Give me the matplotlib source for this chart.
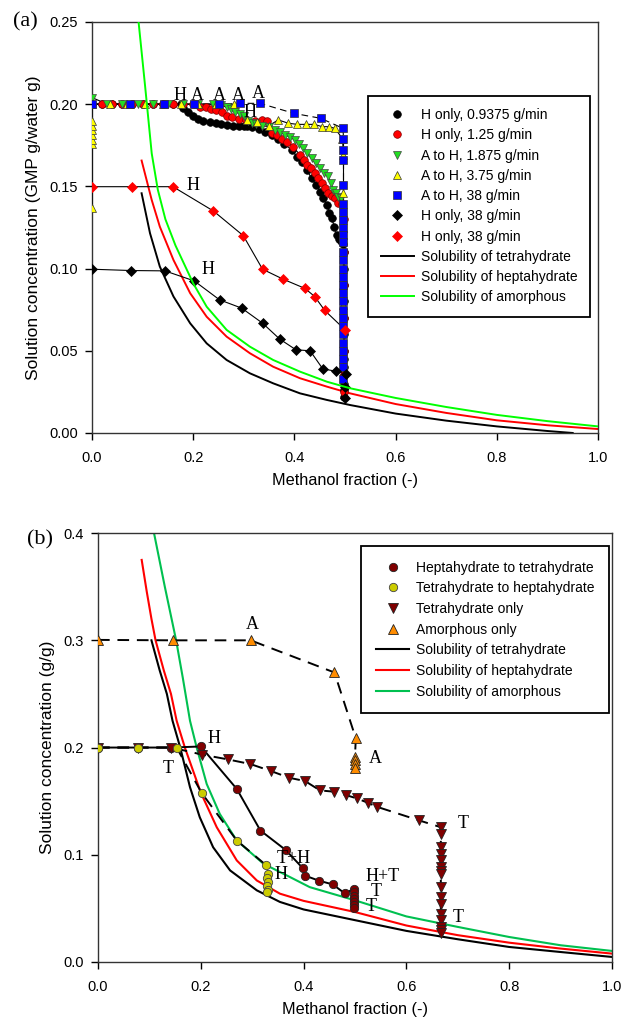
import matplotlib
matplotlib.use('Agg')
import matplotlib.pyplot as plt
import numpy as np

plt.rcParams['font.family'] = ['Liberation Sans', 'DejaVu Sans']

# ---------------- panel (a) data ----------------
# H only, 0.9375 g/min
h09_x = [0, 0.02, 0.04, 0.06, 0.08, 0.10, 0.12, 0.14, 0.16, 0.175,
         0.18, 0.19, 0.20, 0.21, 0.22, 0.233, 0.245, 0.255, 0.266, 0.278,
         0.29, 0.30, 0.306, 0.316, 0.33, 0.342, 0.355, 0.368, 0.38, 0.395,
         0.405, 0.414, 0.424, 0.434, 0.442, 0.451, 0.457, 0.464, 0.469, 0.474,
         0.479, 0.484, 0.488, 0.493, 0.497,
         0.498, 0.498, 0.498, 0.498, 0.498, 0.498, 0.498, 0.498, 0.498, 0.498,
         0.498, 0.498, 0.498]
h09_y = [0.2, 0.2, 0.2, 0.2, 0.2, 0.2, 0.2, 0.2, 0.2, 0.2,
         0.1975, 0.195, 0.193, 0.191, 0.19, 0.189, 0.1885, 0.188, 0.1875, 0.187,
         0.187, 0.1868, 0.1865, 0.186, 0.185, 0.1833, 0.181, 0.179, 0.176, 0.172,
         0.168, 0.165, 0.16, 0.155, 0.151, 0.1468, 0.143, 0.1387, 0.134, 0.1306,
         0.125, 0.1204, 0.118, 0.117, 0.115,
         0.11, 0.10, 0.09, 0.08, 0.07, 0.06, 0.05, 0.045, 0.04, 0.035,
         0.03, 0.026, 0.022]

# H only, 1.25 g/min
h125_x = [0, 0.02, 0.04, 0.06, 0.08, 0.10, 0.12, 0.14, 0.16, 0.18, 0.20,
          0.213, 0.225, 0.235, 0.246, 0.256, 0.266, 0.276, 0.29, 0.305, 0.322,
          0.335, 0.345, 0.355, 0.365, 0.375, 0.386, 0.398, 0.411, 0.418, 0.424,
          0.432, 0.441, 0.447, 0.454, 0.46, 0.467, 0.474, 0.48, 0.487, 0.495,
          0.498, 0.498, 0.498, 0.498, 0.498, 0.498, 0.498]
h125_y = [0.2, 0.2, 0.2, 0.2, 0.2, 0.2, 0.2, 0.2, 0.2, 0.2, 0.2,
          0.1985, 0.198, 0.197, 0.1965, 0.195, 0.193, 0.192, 0.191, 0.1905, 0.19,
          0.1905, 0.19, 0.1823, 0.181, 0.179, 0.177, 0.174, 0.169, 0.166, 0.163,
          0.161, 0.158, 0.155, 0.1519, 0.149, 0.1458, 0.144, 0.1428, 0.14, 0.139,
          0.13, 0.11, 0.09, 0.07, 0.05, 0.035, 0.025]

# A to H, 1.875 g/min
a18_x = [0, 0.03, 0.06, 0.09, 0.12, 0.15, 0.18, 0.21, 0.24,
         0.255, 0.266, 0.275, 0.283, 0.292, 0.30, 0.308, 0.316, 0.325, 0.335,
         0.349, 0.362, 0.372, 0.381, 0.391, 0.401, 0.409, 0.417, 0.425, 0.434,
         0.442, 0.451, 0.459, 0.467, 0.472, 0.477, 0.482, 0.487, 0.493]
a18_y = [0.204, 0.2, 0.2, 0.2, 0.2, 0.2, 0.2, 0.2, 0.2,
         0.1995, 0.198, 0.197, 0.1955, 0.194, 0.1925, 0.19, 0.1884, 0.188, 0.187,
         0.1863, 0.1843, 0.183, 0.1813, 0.18, 0.1782, 0.176, 0.1732, 0.17, 0.167,
         0.164, 0.161, 0.158, 0.156, 0.152, 0.1478, 0.146, 0.1437, 0.143]

# A to H, 3.75 g/min
a37_x = [0, 0, 0, 0, 0, 0, 0, 0,
         0.035, 0.07, 0.105, 0.14, 0.175, 0.21, 0.245, 0.28,
         0.306, 0.327, 0.35, 0.368, 0.388, 0.406, 0.422, 0.439, 0.455, 0.468,
         0.48, 0.495, 0.497, 0.497, 0.497, 0.497]
a37_y = [0.137, 0.176, 0.178, 0.181, 0.184, 0.187, 0.19, 0.2,
         0.2, 0.2, 0.2, 0.2, 0.2, 0.2, 0.2, 0.2,
         0.1904, 0.189, 0.187, 0.1904, 0.1884, 0.1877, 0.1877, 0.1877, 0.1863, 0.1863,
         0.1853, 0.179, 0.169, 0.1458, 0.09, 0.078]

# A to H, 38 g/min
a38_x = [0, 0.075, 0.143, 0.202, 0.25, 0.292, 0.332, 0.399, 0.452, 0.496,
         0.497, 0.497, 0.497, 0.497, 0.497, 0.497, 0.497, 0.497, 0.497, 0.497,
         0.497, 0.497, 0.497, 0.497, 0.497, 0.497, 0.497, 0.497, 0.497, 0.497,
         0.497, 0.497, 0.497, 0.497, 0.497, 0.497]
a38_y = [0.2, 0.2, 0.2, 0.2, 0.2, 0.2005, 0.2005, 0.1944, 0.1914, 0.1853,
         0.179, 0.172, 0.166, 0.151, 0.139, 0.1346, 0.1296, 0.1245, 0.1204, 0.1164,
         0.11, 0.105, 0.10, 0.095, 0.09, 0.085, 0.08, 0.075, 0.07, 0.065,
         0.06, 0.055, 0.05, 0.045, 0.04, 0.033]

# H only, 38 g/min (black diamonds)
hd1_x = [0, 0.078, 0.144, 0.202, 0.252, 0.296, 0.337, 0.371, 0.403, 0.431,
         0.456, 0.483, 0.501, 0.5, 0.5]
hd1_y = [0.0996, 0.0988, 0.0986, 0.0925, 0.081, 0.0759, 0.0668, 0.0571, 0.0506, 0.05,
         0.039, 0.0375, 0.036, 0.028, 0.021]

# H only, 38 g/min (red diamonds)
hd2_x = [0, 0.079, 0.16, 0.24, 0.299, 0.337, 0.378, 0.421, 0.44, 0.46, 0.5]
hd2_y = [0.1498, 0.1498, 0.1498, 0.135, 0.12, 0.0996, 0.0935, 0.0879, 0.083, 0.0745, 0.0628]

# solubility curves (a)
sa_tet_x = [0.098, 0.1146, 0.134, 0.161, 0.194, 0.2266, 0.266, 0.312, 0.358, 0.411,
            0.464, 0.51, 0.6, 0.7, 0.8, 0.9, 0.95]
sa_tet_y = [0.1458, 0.1215, 0.1012, 0.083, 0.0667, 0.0545, 0.0444, 0.0363, 0.0302, 0.0241,
            0.0201, 0.017, 0.0118, 0.0075, 0.004, 0.0012, 0.0]
sa_hep_x = [0.098, 0.118, 0.134, 0.161, 0.194, 0.2266, 0.266, 0.312, 0.358, 0.411,
            0.464, 0.51, 0.6, 0.7, 0.8, 0.9, 1.0]
sa_hep_y = [0.1657, 0.1417, 0.1255, 0.1052, 0.085, 0.0707, 0.0586, 0.0485, 0.0403, 0.0333,
            0.0282, 0.0241, 0.0176, 0.0122, 0.0077, 0.0047, 0.0024]
sa_amo_x = [0.0916, 0.105, 0.118, 0.13, 0.145, 0.165, 0.2, 0.2266, 0.266, 0.312,
            0.358, 0.411, 0.464, 0.51, 0.6, 0.7, 0.8, 0.9, 1.0]
sa_amo_y = [0.2512, 0.2107, 0.170, 0.148, 0.13, 0.114, 0.091, 0.0768, 0.0627, 0.0525,
            0.0444, 0.0373, 0.0312, 0.0272, 0.0213, 0.0158, 0.011, 0.0072, 0.004]

# ---------------- panel (b) data ----------------
ht_x = [0, 0.0775, 0.143, 0.2, 0.27, 0.316, 0.365, 0.399, 0.403, 0.43,
        0.457, 0.48, 0.498, 0.498, 0.498, 0.498, 0.498, 0.498, 0.498]
ht_y = [0.2, 0.2, 0.2, 0.201, 0.1614, 0.1226, 0.1045, 0.0872, 0.0805, 0.0758,
        0.0723, 0.064, 0.068, 0.065, 0.062, 0.059, 0.056, 0.053, 0.05]

th_x = [0, 0.0775, 0.153, 0.2016, 0.27, 0.326, 0.3315, 0.329, 0.331, 0.329, 0.33, 0.329]
th_y = [0.2, 0.2, 0.2, 0.1577, 0.1133, 0.0907, 0.0823, 0.078, 0.0745, 0.0704, 0.0675, 0.065]

to_x = [0, 0.0775, 0.143, 0.2017, 0.252, 0.2965, 0.337, 0.372, 0.403, 0.432,
        0.46, 0.483, 0.504, 0.525, 0.543, 0.625, 0.667,
        0.667, 0.667, 0.667, 0.667, 0.667, 0.667, 0.667, 0.667, 0.667, 0.667,
        0.667, 0.667, 0.667, 0.667, 0.667]
to_y = [0.2, 0.2, 0.2, 0.1935, 0.189, 0.1846, 0.178, 0.1718, 0.1687, 0.160,
        0.1588, 0.1556, 0.1525, 0.1485, 0.1447, 0.132, 0.1257,
        0.1196, 0.107, 0.101, 0.0947, 0.0885, 0.085, 0.0823, 0.0698, 0.0605, 0.0544,
        0.045, 0.0388, 0.0326, 0.03, 0.027]

am_x = [0, 0.145, 0.297, 0.46, 0.5016, 0.5, 0.5, 0.5, 0.5]
am_y = [0.3004, 0.3, 0.3, 0.27, 0.2086, 0.1914, 0.188, 0.185, 0.1805]

sb_tet_x = [0.104, 0.12, 0.134, 0.145, 0.16, 0.179, 0.198, 0.224, 0.257, 0.309,
            0.354, 0.4, 0.5, 0.6, 0.7, 0.8, 0.9, 1.0]
sb_tet_y = [0.30, 0.272, 0.25, 0.225, 0.20, 0.163, 0.135, 0.107, 0.0854, 0.0668,
            0.056, 0.049, 0.039, 0.029, 0.0212, 0.014, 0.0093, 0.0047]
sb_hep_x = [0.085, 0.095, 0.104, 0.112, 0.128, 0.142, 0.153, 0.169, 0.2, 0.231,
            0.27, 0.309, 0.354, 0.4, 0.5, 0.6, 0.7, 0.8, 0.9, 1.0]
sb_hep_y = [0.375, 0.345, 0.32, 0.30, 0.272, 0.25, 0.225, 0.20, 0.158, 0.1257,
            0.0947, 0.076, 0.0637, 0.057, 0.0466, 0.034, 0.025, 0.018, 0.0125, 0.0078]
sb_amo_x = [0.109, 0.13, 0.152, 0.165, 0.179, 0.192, 0.2115, 0.237, 0.27, 0.322,
            0.3735, 0.412, 0.5, 0.6, 0.7, 0.8, 0.9, 1.0]
sb_amo_y = [0.40, 0.35, 0.30, 0.265, 0.225, 0.20, 0.166, 0.138, 0.1133, 0.0916,
            0.0792, 0.0698, 0.0575, 0.0425, 0.0327, 0.0233, 0.0156, 0.0103]

serif = ['Liberation Serif', 'DejaVu Serif']

fig = plt.figure(figsize=(6.23, 10.26), dpi=100)
ax1 = fig.add_axes([0.1477, 0.578, 0.8122, 0.4006])
ax2 = fig.add_axes([0.1573, 0.0624, 0.825, 0.418])

# ---------- (a) ----------
ax1.plot(sa_tet_x, sa_tet_y, color='black', lw=1.4, label='Solubility of tetrahydrate', zorder=2)
ax1.plot(sa_hep_x, sa_hep_y, color='#ff0000', lw=1.4, label='Solubility of heptahydrate', zorder=2)
ax1.plot(sa_amo_x, sa_amo_y, color='#00ff00', lw=1.4, label='Solubility of amorphous', zorder=6)

ax1.plot(h09_x, h09_y, color='black', lw=0.8, zorder=3)
ax1.plot(h125_x, h125_y, color='black', lw=0.8, zorder=3)
ax1.plot(a18_x, a18_y, color='black', lw=0.8, zorder=3)
ax1.plot(a37_x, a37_y, color='black', lw=0.8, zorder=3)
ax1.plot(a38_x, a38_y, color='black', lw=0.8, ls=(0, (6, 4)), zorder=3)
ax1.plot(hd1_x, hd1_y, color='black', lw=0.8, zorder=3)
ax1.plot(hd2_x, hd2_y, color='black', lw=0.8, zorder=3)

m1 = ax1.plot(h09_x, h09_y, 'o', ms=5.5, mfc='black', mec='black', mew=0.5, zorder=4)[0]
m2 = ax1.plot(h125_x, h125_y, 'o', ms=5.5, mfc='#ff0000', mec='#800000', mew=0.5, zorder=4)[0]
m3 = ax1.plot(a18_x, a18_y, 'v', ms=6, mfc='#22dd22', mec='#444444', mew=0.5, zorder=4)[0]
m4 = ax1.plot(a37_x, a37_y, '^', ms=6, mfc='#ffff00', mec='#333333', mew=0.5, zorder=4)[0]
m5 = ax1.plot(a38_x, a38_y, 's', ms=5.5, mfc='#0000ff', mec='#333333', mew=0.5, zorder=5)[0]
m6 = ax1.plot(hd1_x, hd1_y, 'D', ms=5.5, mfc='black', mec='black', mew=0.5, zorder=5)[0]
m7 = ax1.plot(hd2_x, hd2_y, 'D', ms=5.5, mfc='#ff0000', mec='#ff0000', mew=0.5, zorder=5)[0]

for tx, ty, s in [(0.173, 0.2055, 'H'), (0.209, 0.2055, 'A'), (0.252, 0.2055, 'A'),
                  (0.29, 0.2055, 'A'), (0.329, 0.2065, 'A'), (0.313, 0.195, 'H'),
                  (0.2, 0.1505, 'H'), (0.229, 0.0995, 'H')]:
    ax1.text(tx, ty, s, family=serif, fontsize=13, ha='center', va='center', zorder=7)

ax1.set_xlim(0, 1)
ax1.set_ylim(0, 0.25)
ax1.set_xticks(np.arange(0, 1.01, 0.2))
ax1.set_xticklabels(['0.0', '0.2', '0.4', '0.6', '0.8', '1.0'])
ax1.set_yticks(np.arange(0, 0.251, 0.05))
ax1.set_yticklabels(['0.00', '0.05', '0.10', '0.15', '0.20', '0.25'])
ax1.set_xlabel('Methanol fraction (-)', fontsize=11.7, labelpad=6)
ax1.set_ylabel('Solution concentration (GMP g/water g)', fontsize=12.5, labelpad=6)

h = ax1.get_legend_handles_labels()
leg1 = ax1.legend([m1, m2, m3, m4, m5, m6, m7] + h[0][:3],
                  ['H only, 0.9375 g/min', 'H only, 1.25 g/min', 'A to H, 1.875 g/min',
                   'A to H, 3.75 g/min', 'A to H, 38 g/min', 'H only, 38 g/min',
                   'H only, 38 g/min'] + h[1][:3],
                  loc='upper right', bbox_to_anchor=(0.984, 0.821), fontsize=10,
                  frameon=True, fancybox=False, framealpha=1, edgecolor='black',
                  handlelength=2.4, handletextpad=0.5, labelspacing=0.45, borderpad=0.9,
                  borderaxespad=0)
leg1.get_frame().set_linewidth(1.3)
leg1.set_zorder(10)

# ---------- (b) ----------
ax2.plot(sb_tet_x, sb_tet_y, color='black', lw=1.5, label='Solubility of tetrahydrate', zorder=2)
ax2.plot(sb_hep_x, sb_hep_y, color='#ff0000', lw=1.5, label='Solubility of heptahydrate', zorder=2)
ax2.plot(sb_amo_x, sb_amo_y, color='#00c050', lw=1.5, label='Solubility of amorphous', zorder=2)

ax2.plot(ht_x, ht_y, color='black', lw=1.4, zorder=3)
ax2.plot(th_x, th_y, color='black', lw=1.4, ls=(0, (6, 4)), zorder=3)
ax2.plot(to_x, to_y, color='black', lw=1.4, ls=(0, (6, 4)), zorder=3)
ax2.plot(am_x, am_y, color='black', lw=1.4, ls=(0, (6, 4)), zorder=3)

n1 = ax2.plot(ht_x, ht_y, 'o', ms=6, mfc='#800000', mec='#222222', mew=0.6, zorder=4)[0]
n3 = ax2.plot(to_x, to_y, 'v', ms=6.5, mfc='#800000', mec='#222222', mew=0.6, zorder=4)[0]
n2 = ax2.plot(th_x, th_y, 'o', ms=6, mfc='#cccc00', mec='#444444', mew=0.6, zorder=5)[0]
n4 = ax2.plot(am_x, am_y, '^', ms=6.5, mfc='#ff8c00', mec='#222222', mew=0.6, zorder=5)[0]

for tx, ty, s in [(0.3, 0.315, 'A'), (0.539, 0.19, 'A'), (0.225, 0.2085, 'H'),
                  (0.136, 0.18, 'T'), (0.711, 0.129, 'T'), (0.38, 0.0965, 'T+H'),
                  (0.357, 0.082, 'H'), (0.553, 0.08, 'H+T'), (0.541, 0.066, 'T'),
                  (0.531, 0.0514, 'T'), (0.7, 0.0414, 'T')]:
    ax2.text(tx, ty, s, family=serif, fontsize=13, ha='center', va='center', zorder=7)

ax2.set_xlim(0, 1)
ax2.set_ylim(0, 0.4)
ax2.set_xticks(np.arange(0, 1.01, 0.2))
ax2.set_xticklabels(['0.0', '0.2', '0.4', '0.6', '0.8', '1.0'])
ax2.set_yticks(np.arange(0, 0.401, 0.1))
ax2.set_yticklabels(['0.0', '0.1', '0.2', '0.3', '0.4'])
ax2.set_xlabel('Methanol fraction (-)', fontsize=11.7, labelpad=6)
ax2.set_ylabel('Solution concentration (g/g)', fontsize=12.5, labelpad=6)

h2 = ax2.get_legend_handles_labels()
leg2 = ax2.legend([n1, n2, n3, n4] + h2[0][:3],
                  ['Heptahydrate to tetrahydrate', 'Tetrahydrate to heptahydrate',
                   'Tetrahydrate only', 'Amorphous only'] + h2[1][:3],
                  loc='upper right', bbox_to_anchor=(0.995, 0.970), fontsize=10,
                  frameon=True, fancybox=False, framealpha=1, edgecolor='black',
                  handlelength=2.4, handletextpad=0.5, labelspacing=0.48, borderpad=1.05,
                  borderaxespad=0)
leg2.get_frame().set_linewidth(1.3)
leg2.set_zorder(10)

for ax in (ax1, ax2):
    ax.tick_params(direction='out', length=5, width=1, labelsize=10.5, pad=5)
    ax.tick_params(axis='x', pad=8)
    for sp in ax.spines.values():
        sp.set_linewidth(1.0)
        sp.set_color('#333333')

fig.text(25 / 623, 1 - 22 / 1026, '(a)', family=serif, fontsize=16, ha='center', va='center')
fig.text(40 / 623, 1 - 540 / 1026, '(b)', family=serif, fontsize=16, ha='center', va='center')

fig.savefig('out.png', dpi=100)
